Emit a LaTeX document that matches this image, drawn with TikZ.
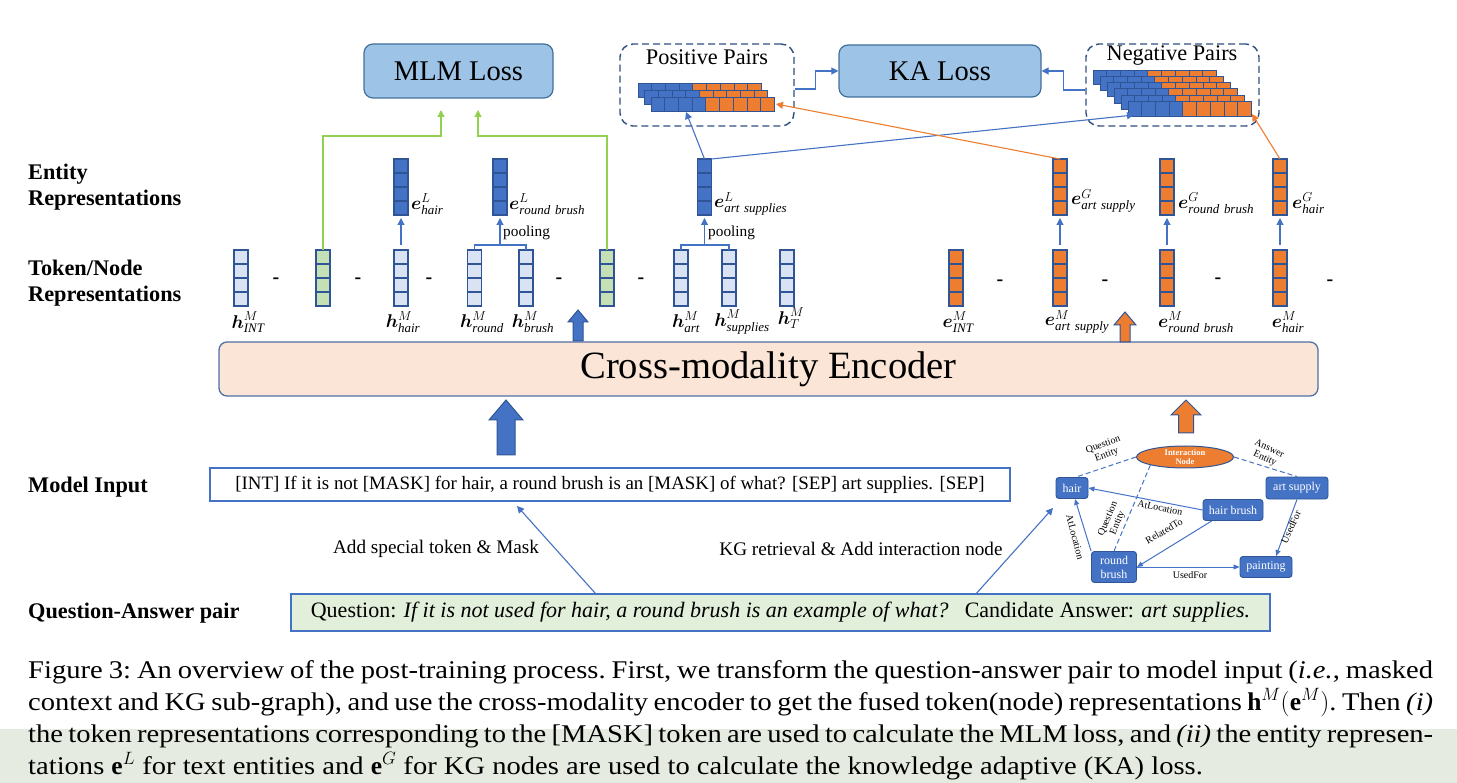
\RequirePackage{fix-cm}
\documentclass[tikz,border=0pt]{standalone}
\usepackage{amsmath}
\usepackage{fontspec}
\setmainfont{Liberation Serif}
\newfontfamily\capfont[FakeStretch=1.12]{Liberation Serif}
\usetikzlibrary{arrows.meta,calc,shapes.geometric}

\definecolor{vb}{HTML}{2F5597}
\definecolor{db}{HTML}{4472C4}
\definecolor{lb}{HTML}{DAE3F3}
\definecolor{lg}{HTML}{C5E0B4}
\definecolor{og}{HTML}{ED7D31}
\definecolor{gl}{HTML}{92D050}
\definecolor{lossfill}{HTML}{9DC3E6}
\definecolor{lossdraw}{HTML}{41719C}
\definecolor{encfill}{HTML}{FBE5D6}
\definecolor{encdraw}{HTML}{4F6FA3}
\definecolor{qafill}{HTML}{E2EFDA}
\definecolor{band}{HTML}{E6EBE1}
\definecolor{dashc}{HTML}{2F4F80}

\tikzset{
 vecbox/.style={draw=vb, line width=1.3pt, minimum width=14pt, minimum height=56pt, inner sep=0pt, outer sep=0pt,
   path picture={\foreach \k in {1,2,3}{\draw[vb,line width=1.3pt] ($(path picture bounding box.south west)!\k/4!(path picture bounding box.north west)$) -- ($(path picture bounding box.south east)!\k/4!(path picture bounding box.north east)$);}}},
 side/.style={anchor=west, align=left, inner sep=0pt, font=\bfseries\fontsize{22.3}{26}\selectfont},
 loss/.style={draw=lossdraw, fill=lossfill, line width=1.2pt, rounded corners=9pt, font=\fontsize{28.5}{32}\selectfont},
 pairbox/.style={draw=dashc, line width=1.4pt, dash pattern=on 7pt off 4pt, rounded corners=13pt},
 ptitle/.style={font=\fontsize{22.3}{24}\selectfont, inner sep=0pt},
 cellline/.style={draw=vb, line width=0.8pt},
 bline/.style={draw=db, line width=1.1pt},
 barrow/.style={draw=db, line width=1.1pt, -{Triangle[length=7pt,width=7pt]}},
 oarrow/.style={draw=og, line width=1.1pt, -{Triangle[length=7pt,width=7pt]}},
 garrow/.style={draw=gl, line width=1.2pt, -{Triangle[length=7pt,width=7pt]}},
 vlab/.style={inner sep=0pt, font=\fontsize{18.5}{21}\selectfont},
 dsym/.style={inner sep=0pt, font=\bfseries\fontsize{20}{20}\selectfont},
 pooltxt/.style={anchor=west, inner sep=0pt, font=\fontsize{15.3}{17}\selectfont},
 enc/.style={draw=encdraw, fill=encfill, line width=1.3pt, rounded corners=8pt, font=\fontsize{38.6}{42}\selectfont},
 mibox/.style={draw=db, fill=white, line width=1.2pt, font=\fontsize{18.9}{21}\selectfont},
 qabox/.style={draw=db, fill=qafill, line width=1.2pt, font=\fontsize{22}{24}\selectfont},
 steplab/.style={inner sep=0pt, font=\fontsize{19.2}{21}\selectfont},
 kgnode/.style={draw=vb, fill=db, line width=0.9pt, rounded corners=3pt, text=white, inner sep=1pt, align=center, font=\fontsize{12}{13}\selectfont},
 kgedge/.style={draw=db, line width=1pt, -{Triangle[length=6pt,width=5pt]}},
 kgdash/.style={draw=db, line width=1pt, dash pattern=on 5pt off 3pt},
 elab/.style={inner sep=0pt, align=center, font=\fontsize{10}{10.5}\selectfont},
}

\newcommand\pairrow[3]{%
 \foreach \i in {0,...,3}{\draw[cellline,fill=db] ({#1+\i*13.7},#2) rectangle ++(13.7,#3);}
 \foreach \i in {4,...,8}{\draw[cellline,fill=og] ({#1+\i*13.7},#2) rectangle ++(13.7,#3);}}

\newcommand\blockarrow[7]{%
 \filldraw[fill=#7, draw=vb, line width=1pt] (#1,#2) -- ({#1+#4/2},{#2+#6}) -- ({#1+#5/2},{#2+#6}) -- ({#1+#5/2},#3) -- ({#1-#5/2},#3) -- ({#1-#5/2},{#2+#6}) -- ({#1-#4/2},{#2+#6}) -- cycle;}

\begin{document}
\begin{tikzpicture}[x=1pt,y=-1pt]
\useasboundingbox (0,0) rectangle (1457,783);
\fill[band] (0,729) rectangle (1457,783);

% side labels
\node[side] (lab1) at (28,187) {Entity\\Representations};
\node[side] (lab2) at (28,283) {Token/Node\\Representations};
\node[side] (lab3) at (28,487) {Model Input};
\node[side] (lab4) at (28,613) {Question-Answer pair};

% losses
\node[loss, minimum width=189pt, minimum height=54pt] (mlm) at (458.5,71) {MLM Loss};
\node[loss, minimum width=202pt, minimum height=52pt] (ka) at (940,71) {KA Loss};

% pair boxes
\node[pairbox, minimum width=174pt, minimum height=82pt] (pos) at (707,85) {};
\node[pairbox, minimum width=173pt, minimum height=82pt] (neg) at (1172.5,85) {};
\node[ptitle] (postxt) at (707,57) {Positive Pairs};
\node[ptitle] (negtxt) at (1172,55.5) {Negative Pairs};
\pairrow{638}{83}{14}
\pairrow{644.5}{90}{14}
\pairrow{651}{97}{14}
\pairrow{1093}{70}{14.5}
\pairrow{1100}{76}{14.5}
\pairrow{1107}{82}{14.5}
\pairrow{1114}{88.5}{14.5}
\pairrow{1121}{95}{14.5}
\pairrow{1128}{101}{15}

\draw[barrow] ($(pos.east)+(0,4)$) -- ++(21,0) |- (ka.west);
\draw[barrow] ($(neg.west)+(0,5)$) -- ++(-22,0) |- (ka.east);

% entity vectors
\node[vecbox, fill=db] (eLhair) at (401,187) {};
\node[vecbox, fill=db] (eLround) at (500,187) {};
\node[vecbox, fill=db] (eLart) at (704.5,187) {};
\node[vecbox, fill=og] (eGart) at (1060,187) {};
\node[vecbox, fill=og] (eGround) at (1167,187) {};
\node[vecbox, fill=og] (eGhair) at (1280,187) {};

\node[vlab, anchor=west] (leLhair) at (411,204) {$\boldsymbol{e}^{L}_{\mathit{hair}}$};
\node[vlab, anchor=west] (leLround) at (509,204) {$\boldsymbol{e}^{L}_{\mathit{round\ brush}}$};
\node[vlab, anchor=west] (leLart) at (714,204) {$\boldsymbol{e}^{L}_{\mathit{art\ supplies}}$};
\node[vlab, anchor=west] (leGart) at (1071,201) {$\boldsymbol{e}^{G}_{\mathit{art\ supply}}$};
\node[vlab, anchor=west] (leGround) at (1178,203) {$\boldsymbol{e}^{G}_{\mathit{round\ brush}}$};
\node[vlab, anchor=west] (leGhair) at (1292,203) {$\boldsymbol{e}^{G}_{\mathit{hair}}$};

% token vectors
\node[vecbox, fill=lb] (hint) at (241,278) {};
\node[vecbox, fill=lg] (g1) at (323,278) {};
\node[vecbox, fill=lb] (hhair) at (401,278) {};
\node[vecbox, fill=lb] (hround) at (474.5,278) {};
\node[vecbox, fill=lb] (hbrush) at (526,278) {};
\node[vecbox, fill=lg] (g2) at (607,278) {};
\node[vecbox, fill=lb] (hart) at (681,278) {};
\node[vecbox, fill=lb] (hsup) at (729,278) {};
\node[vecbox, fill=lb] (hT) at (787,278) {};
\node[vecbox, fill=og] (eint) at (956,278) {};
\node[vecbox, fill=og] (eMart) at (1060,278) {};
\node[vecbox, fill=og] (eMround) at (1167,278) {};
\node[vecbox, fill=og] (eMhair) at (1280,278) {};

\node[dsym] (d1) at (276,281) {-};
\node[dsym] (d2) at (358,281) {-};
\node[dsym] (d3) at (429,281) {-};
\node[dsym] (d4) at (559,281) {-};
\node[dsym] (d5) at (641,281) {-};
\node[dsym] (d6) at (1000,283) {-};
\node[dsym] (d7) at (1105,283) {-};
\node[dsym] (d8) at (1218,281) {-};
\node[dsym] (d9) at (1330,283) {-};

\node[vlab] (lhint) at (248,322) {$\boldsymbol{h}^{M}_{\mathit{INT}}$};
\node[vlab] (lhhair) at (403,322) {$\boldsymbol{h}^{M}_{\mathit{hair}}$};
\node[vlab] (lhround) at (482,322) {$\boldsymbol{h}^{M}_{\mathit{round}}$};
\node[vlab] (lhbrush) at (533,322) {$\boldsymbol{h}^{M}_{\mathit{brush}}$};
\node[vlab] (lhart) at (686,322) {$\boldsymbol{h}^{M}_{\mathit{art}}$};
\node[vlab] (lhsup) at (742,322) {$\boldsymbol{h}^{M}_{\mathit{supplies}}$};
\node[vlab] (lhT) at (791,318) {$\boldsymbol{h}^{M}_{T}$};
\node[vlab] (leint) at (958,322) {$\boldsymbol{e}^{M}_{\mathit{INT}}$};
\node[vlab] (leMart) at (1077,322) {$\boldsymbol{e}^{M}_{\mathit{art\ supply}}$};
\node[vlab] (leMround) at (1196,322) {$\boldsymbol{e}^{M}_{\mathit{round\ brush}}$};
\node[vlab] (leMhair) at (1288,322) {$\boldsymbol{e}^{M}_{\mathit{hair}}$};

% token -> entity
\draw[barrow, shorten <=5pt, shorten >=3pt] (hhair.north) -- (eLhair.south);
\coordinate (p1) at (500,245);
\draw[bline] (hround.north) |- (p1) -| (hbrush.north);
\draw[barrow, shorten >=3pt] (p1) -- (eLround.south);
\node[pooltxt] (pool1) at (503,233) {pooling};
\coordinate (p2) at (704.5,245);
\draw[bline] (hart.north) |- (p2) -| (hsup.north);
\draw[barrow, shorten >=3pt] (p2) -- (eLart.south);
\node[pooltxt] (pool2) at (708,233) {pooling};
\draw[barrow, shorten <=5pt, shorten >=3pt] (eMart.north) -- (eGart.south);
\draw[barrow, shorten <=5pt, shorten >=3pt] (eMround.north) -- (eGround.south);
\draw[barrow, shorten <=5pt, shorten >=3pt] (eMhair.north) -- (eGhair.south);

% green to MLM
\coordinate (mlmA) at (441,110);
\coordinate (mlmB) at (478,110);
\draw[garrow] (g1.north) -- ++(0,-114) -| (mlmA);
\draw[garrow] (g2.north) -- ++(0,-114) -| (mlmB);

% entities to pairs
\coordinate (posin) at (686,112);
\coordinate (negin) at (1134,115);
\coordinate (posin2) at (776,104);
\coordinate (negin2) at (1252,114);
\draw[barrow] (eLart.north) -- (posin);
\draw[barrow] (eLart.north east) -- (negin);
\draw[oarrow] (eGart.north) -- (posin2);
\draw[oarrow] (eGhair.north) -- (negin2);

% encoder
\node[enc, minimum width=1099pt, minimum height=54pt] (enc) at (768.5,369) {Cross-modality Encoder};
\blockarrow{578}{310}{341}{20}{10}{12}{db}
\blockarrow{1125}{312}{342}{22}{10}{13}{og}
\blockarrow{506}{400}{455}{34}{18}{20}{db}
\blockarrow{1186}{400}{433}{30}{15}{15}{og}

% inputs
\node[mibox, minimum width=800pt, minimum height=33pt] (mi) at (610,484.5) {[INT] If it is not [MASK] for hair, a round brush is an [MASK] of what? [SEP] art supplies. [SEP]};
\node[qabox, minimum width=979pt, minimum height=37pt] (qa) at (780.5,612.5) {Question: \textit{If it is not used for hair, a round brush is an example of what?}\hspace{0.4em} Candidate Answer: \textit{art supplies.}};
\coordinate (miin) at (517,506);
\coordinate (kgin) at (1053,508);
\draw[barrow] ($(qa.north west)+(305,0)$) -- (miin);
\draw[barrow] ($(qa.north west)+(686,0)$) -- (kgin);
\node[steplab] (s1) at (436,549) {Add special token \& Mask};
\node[steplab] (s2) at (861,549) {KG retrieval \& Add interaction node};

% KG graph
\node[ellipse, draw=vb, fill=og, line width=1pt, minimum width=97pt, minimum height=22pt, inner sep=0pt, text=white, align=center, font=\bfseries\fontsize{8.5}{9}\selectfont] (inter) at (1185,457) {Interaction\\Node};
\node[kgnode, minimum width=32pt, minimum height=21pt] (hair) at (1072,488) {hair};
\node[kgnode, minimum width=62pt, minimum height=22pt] (art) at (1297,488) {art supply};
\node[kgnode, minimum width=60pt, minimum height=21pt] (hb) at (1233,510) {hair brush};
\node[kgnode, minimum width=45pt, minimum height=31pt, font=\fontsize{12}{14}\selectfont] (rb) at (1114,567) {round\\brush};
\node[kgnode, minimum width=52pt, minimum height=21pt] (paint) at (1266,567) {painting};

\draw[kgdash] (inter.west) -- ($(hair.north)+(4,0)$);
\draw[kgdash] (inter.east) -- (art.north);
\draw[kgdash] (inter.south west) -- (rb.north);
\draw[kgedge] (hb.west) -- (hair.east);
\draw[kgedge] ($(hb.south west)!0.15!(hb.south east)$) -- (rb.east);
\draw[kgedge] (rb.north west) -- ($(hair.south)+(3,0)$);
\draw[kgedge] (rb.east) -- (paint.west);
\draw[kgedge] (art.south) -- ($(paint.north)+(10,0)$);

\node[elab, rotate=20] (el1) at (1105,450) {Question\\Entity};
\node[elab, rotate=-25] (el2) at (1267,454) {Answer\\Entity};
\node[elab, rotate=67] (el3) at (1113,521) {Question\\Entity};
\node[elab, rotate=-11] (el4) at (1160,508) {AtLocation};
\node[elab, rotate=30] (el5) at (1164,531) {RelatedTo};
\node[elab, rotate=-75] (el6) at (1075,537) {AtLocation};
\node[elab] (el7) at (1190,575) {UsedFor};
\node[elab, rotate=65] (el8) at (1291,527) {UsedFor};

% caption
\node[anchor=north west, text width=1405pt, align=justify, inner sep=0pt, font=\capfont\fontsize{25.5}{32}\selectfont\frenchspacing] (cap) at (28,660) {Figure 3: An overview of the post-training process. First, we transform the question-answer pair to model input (\textit{i.e.}, masked\linebreak context and KG sub-graph), and use the cross-modality encoder to get the fused token(node) representations $\mathbf{h}^{M}(\mathbf{e}^{M})$. Then \textit{(i)}\linebreak the token representations corresponding to the [MASK] token are used to calculate the MLM loss, and \textit{(ii)} the entity represen-\linebreak tations $\mathbf{e}^{L}$ for text entities and $\mathbf{e}^{G}$ for KG nodes are used to calculate the knowledge adaptive (KA) loss.};
\end{tikzpicture}
\end{document}
